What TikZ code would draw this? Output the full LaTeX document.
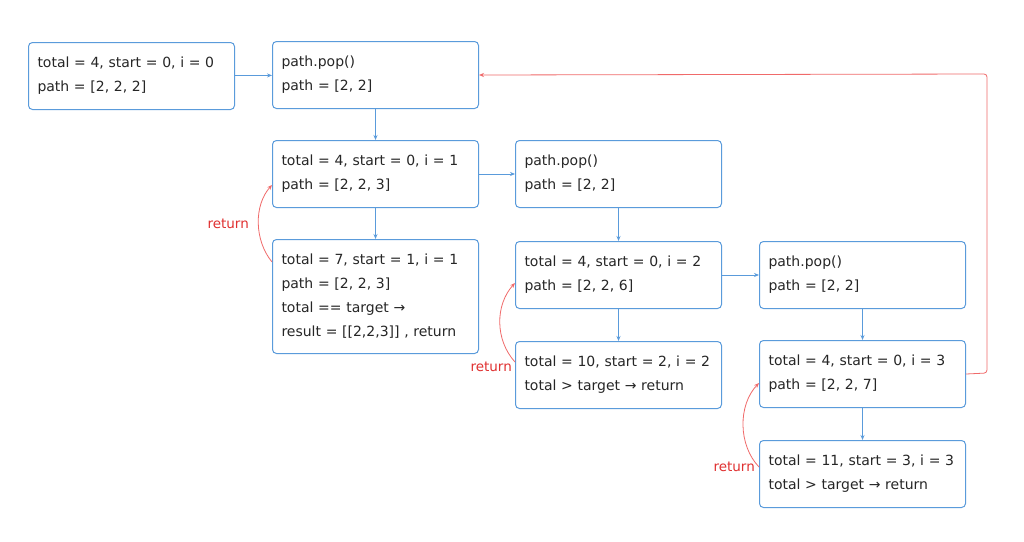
\documentclass[tikz,border=0pt]{standalone}
\usepackage{fontspec}
\setmainfont{DejaVu Sans}
\usetikzlibrary{arrows.meta,calc}
\definecolor{bblue}{HTML}{5A9BDB}
\definecolor{rred}{HTML}{F06A6A}
\definecolor{rtext}{HTML}{E03131}
\begin{document}
\begin{tikzpicture}[x=1pt,y=-1pt,
  box/.style={draw=bblue, line width=1pt, rounded corners=4pt, anchor=north west,
    minimum width=206pt, minimum height=67pt, text width=188pt, inner xsep=9pt,
    align=left, font=\fontsize{14}{24}\selectfont, text=black!85},
  barrow/.style={draw=bblue, line width=0.8pt, -{Stealth[length=5pt,width=4pt]}},
  rarrow/.style={draw=rred, line width=0.8pt, -{Stealth[length=5pt,width=4pt]}},
  rlabel/.style={text=rtext, font=\fontsize{13.5}{14}\selectfont, inner sep=0pt}]
\fill[white] (0,0) rectangle (1024,541);
\useasboundingbox (0,0) rectangle (1024,541);

\node[box] (A) at (28,42) {total = 4, start = 0, i = 0\\path = [2, 2, 2]};
\node[box] (B) at (272,41) {path.pop()\\path = [2, 2]};
\node[box] (C) at (272,140) {total = 4, start = 0, i = 1\\path = [2, 2, 3]};
\node[box] (D) at (515,140) {path.pop()\\path = [2, 2]};
\node[box, minimum height=114pt] (E) at (272,239) {total = 7, start = 1, i = 1\\path = [2, 2, 3]\\total == target →\\result = [[2,2,3]] , return};
\node[box] (F) at (515,241) {total = 4, start = 0, i = 2\\path = [2, 2, 6]};
\node[box] (G) at (515,341) {total = 10, start = 2, i = 2\\total > target → return};
\node[box] (H) at (759,241) {path.pop()\\path = [2, 2]};
\node[box] (I) at (759,340) {total = 4, start = 0, i = 3\\path = [2, 2, 7]};
\node[box] (J) at (759,440) {total = 11, start = 3, i = 3\\total > target → return};

\draw[barrow] (A) -- (B);
\draw[barrow] (B) -- (C);
\draw[barrow] (C) -- (D);
\draw[barrow] (C) -- (E);
\draw[barrow] (D) -- (F);
\draw[barrow] (F) -- (G);
\draw[barrow] (F) -- (H);
\draw[barrow] (H) -- (I);
\draw[barrow] (I) -- (J);

\coordinate (r1) at (987,373);
\coordinate (r2) at (987,74);
\draw[rarrow, rounded corners=3pt] (I.east) -- (r1) -- (r2) -- (B.east);

\draw[rarrow] ([yshift=-23pt]E.north west) .. controls (254,240) and (254,205) .. ([yshift=-45pt]C.north west);
\node[rlabel, anchor=east] (L1) at (249,224) {return};
\draw[rarrow] ([yshift=-21pt]G.north west) .. controls (495,340) and (495,305) .. ([yshift=-42pt]F.north west);
\node[rlabel, anchor=east] (L2) at (512,367) {return};
\draw[rarrow] ([yshift=-27pt]J.north west) .. controls (738,445) and (738,405) .. ([yshift=-43pt]I.north west);
\node[rlabel, anchor=east] (L3) at (755,467) {return};
\end{tikzpicture}
\end{document}
